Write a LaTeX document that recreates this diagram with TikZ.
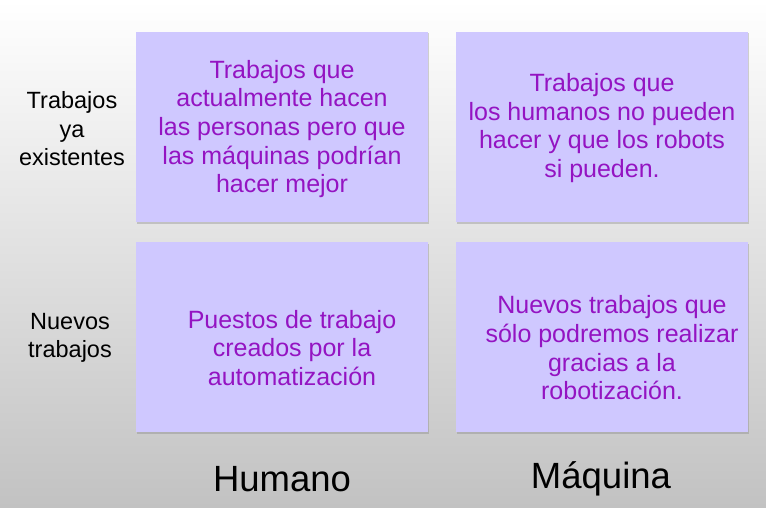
\documentclass[tikz,border=0pt]{standalone}
\usepackage{fontspec}
\setmainfont{Liberation Sans}
\usetikzlibrary{shadows}
\definecolor{boxfill}{HTML}{CFC8FF}
\definecolor{boxtext}{HTML}{9414C2}
\definecolor{bgbottom}{HTML}{C2C2C2}

\begin{document}
\begin{tikzpicture}[x=1pt,y=1pt,
    cellbox/.style={rectangle,fill=boxfill,minimum width=292pt,
      minimum height=190pt,inner sep=0pt,
      drop shadow={opacity=0.35,shadow xshift=1.2pt,shadow yshift=-1.5pt}},
    celltext/.style={text=boxtext,align=center,
      font=\fontsize{25}{28.7}\selectfont},
    rowlabel/.style={align=center,font=\fontsize{23.5}{28.5}\selectfont},
    collabel/.style={anchor=base,font=\fontsize{36.5}{42}\selectfont}
    ]
    % background
    \shade[top color=white,bottom color=bgbottom] (0,0) rectangle (766,-508);
    \useasboundingbox (0,0) rectangle (766,-508);

    % boxes
    \node[cellbox] (tl) at (282,-127) {};
    \node[cellbox] (tr) at (602,-127) {};
    \node[cellbox] (bl) at (282,-337) {};
    \node[cellbox] (br) at (602,-337) {};

    % texts in boxes
    \node[celltext] (tltext) at ([yshift=-2pt]tl.center)
      {Trabajos que\\actualmente hacen\\las personas pero que\\las máquinas podrían\\hacer mejor};
    \node[celltext] (trtext) at ([yshift=-1pt]tr.center)
      {Trabajos que\\los humanos no pueden\\hacer y que los robots\\si pueden.};
    \node[celltext] (bltext) at ([xshift=10pt,yshift=-11pt]bl.center)
      {Puestos de trabajo\\creados por la\\automatización};
    \node[celltext] (brtext) at ([xshift=10pt,yshift=-11pt]br.center)
      {Nuevos trabajos que\\sólo podremos realizar\\gracias a la\\robotización.};

    % row labels
    \node[rowlabel] (row1) at (72,-129) {Trabajos\\ya\\existentes};
    \node[rowlabel] (row2) at (70,-338) {Nuevos\\trabajos};

    % column labels
    \node[collabel] (col1) at (282,-491) {Humano};
    \node[collabel] (col2) at (601,-488) {Máquina};
\end{tikzpicture}
\end{document}
